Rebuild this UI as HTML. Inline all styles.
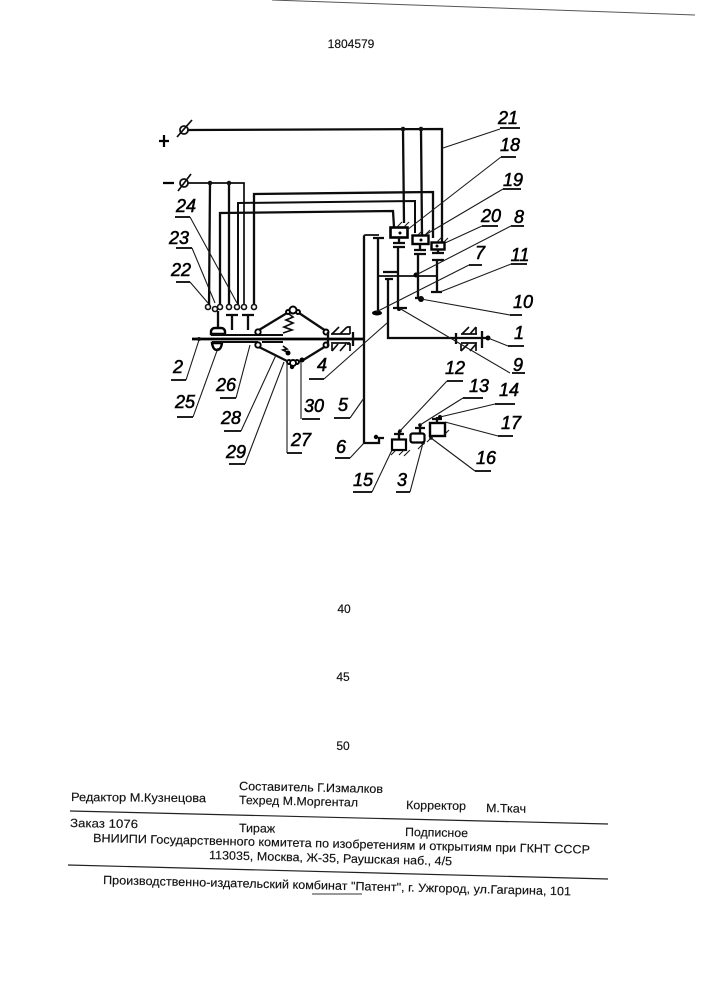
<!DOCTYPE html>
<html><head><meta charset="utf-8"><style>
html,body{margin:0;padding:0;background:#fff}
svg{display:block}
.t{font-family:"Liberation Sans",sans-serif;font-size:12px;fill:#111;stroke:#111;stroke-width:.15}
.l{font-family:"Liberation Sans",sans-serif;font-size:18px;font-style:italic;fill:#000;stroke:#000;stroke-width:.55;text-anchor:middle}
.w{fill:none;stroke:#0c0c0c;stroke-width:2.3}
.w2{fill:none;stroke:#0c0c0c;stroke-width:2}
.n{fill:none;stroke:#1a1a1a;stroke-width:1.1}
.b{fill:none;stroke:#0c0c0c;stroke-width:1.7}
.u{fill:none;stroke:#000;stroke-width:1.8}
</style></head><body>
<svg width="707" height="1000" viewBox="0 0 707 1000" xmlns="http://www.w3.org/2000/svg">
<rect width="707" height="1000" fill="#fff"/>
<path d="M272 0L695 15" stroke="#555" stroke-width="1" fill="none"/>
<text class="t" x="351" y="48" text-anchor="middle">1804579</text>
<text class="t" x="344" y="613" text-anchor="middle">40</text>
<text class="t" x="343" y="681" text-anchor="middle">45</text>
<text class="t" x="343" y="750" text-anchor="middle">50</text>

<!-- power terminals -->
<path d="M159 141H169M164 135V147M163 183H174" fill="none" stroke="#000" stroke-width="2.2"/>
<circle cx="184" cy="130" r="4" fill="none" stroke="#111" stroke-width="1.8"/>
<circle cx="184" cy="183" r="4" fill="none" stroke="#111" stroke-width="1.8"/>
<path class="b" d="M177 137L192 120M178 191L191 174"/>
<path class="w" d="M188 130L442 129V243M403 129L404 223M421 129L422 235"/>
<path class="b" d="M188 183H244V308"/>
<path class="w" d="M210 183L209 308M229 183V308"/>
<circle cx="403" cy="129" r="2.300" fill="#111"/><circle cx="421" cy="129" r="2.300" fill="#111"/>
<circle cx="210" cy="183" r="2.300" fill="#111"/><circle cx="229" cy="183" r="2.300" fill="#111"/>
<path class="w" d="M254 308V194L433 192V238"/>
<path class="w2" d="M238 308V203L415 201V233"/>
<path class="w" d="M220 308V213L393 211L394 227"/>

<!-- contacts -->
<g fill="#fff" stroke="#111" stroke-width="1.600">
<circle cx="208" cy="307" r="2.500"/><circle cx="215" cy="309" r="2.500"/><circle cx="220" cy="307" r="2.500"/><circle cx="229" cy="307" r="2.500"/><circle cx="237" cy="307" r="2.500"/><circle cx="244" cy="307" r="2.500"/><circle cx="254" cy="307" r="2.500"/>
</g>
<path class="w" d="M232 314V330M226 315H238M248 314V330M242 315H254M218 311V329"/>
<path d="M211 334V331Q212 328 215 328H221Q224 328 225 331V334Z" fill="#fff" stroke="#000" stroke-width="2.400"/>
<path d="M212 343Q213 350 217 350Q221 350 222 343Z" fill="#fff" stroke="#000" stroke-width="2.400"/>

<!-- main shaft + sleeves -->
<path d="M192 339H364" stroke="#000" stroke-width="2.800" fill="none"/>
<path class="w2" d="M211 335H258M212 342H258M258 335H283M262 342H283"/>
<circle cx="199" cy="339" r="2" fill="#111"/>

<!-- rhombus -->
<path class="w" d="M259 330L287 313M299 313L326 331M259 347L287 361M300 362L326 346"/>
<path class="b" d="M283 333L292 330L284 327L293 323L286 320L293 317L289 314M283 346L287 349L283 350L289 353"/>
<g fill="#fff" stroke="#000" stroke-width="1.900">
<circle cx="258" cy="332" r="2.700"/><circle cx="258" cy="345" r="2.700"/><circle cx="326" cy="332" r="2.500"/><circle cx="326" cy="345" r="2.500"/>
<circle cx="288" cy="312" r="2"/><circle cx="298" cy="312" r="2"/><circle cx="293" cy="310" r="3.500"/>
<circle cx="289" cy="362" r="2"/><circle cx="297" cy="362" r="2"/><circle cx="293" cy="363" r="3"/>
</g>
<circle cx="288" cy="353" r="2.500" fill="#000"/><circle cx="302" cy="360" r="2.500" fill="#000"/><circle cx="292" cy="367" r="2.200" fill="#000"/>

<!-- bearing left -->
<path class="b" d="M331 334H350M331 343H350M332 334L339 327M340 334L347 327M347 327H350V334M332 351L338 344M340 351L346 344M332 344V351M347 344H350V351"/>
<path class="w" d="M353 332V346M328 332V346"/>

<!-- bearing right + output shaft -->
<path class="w" d="M388 279V338H488"/>
<path class="b" d="M461 334H477M461 343H477M462 334L469 327M470 334L476 327M476 327V334M461 351L468 344M470 351L476 344M461 344V351M476 344V351"/>
<path class="w" d="M456 333V344M482 331V348"/>
<circle cx="488" cy="338" r="2.500" fill="#000"/>

<!-- gears -->
<path class="w" d="M364 236V443H379V438H384"/>
<path d="M364 236Q364 235 366 235H379" class="b"/>
<path class="w" d="M373 238H384M378 239V312"/>
<ellipse cx="377" cy="313" rx="5" ry="2.500" fill="#000"/>
<path class="w" d="M383 272H397M385 279H393"/>
<path class="b" d="M378 276H437"/>
<circle cx="416" cy="275" r="2.500" fill="#000"/>
<path class="w" d="M398 247V307M393 308H407M418 254V298M437 260V292M431 292H442"/>
<circle cx="399" cy="309" r="2" fill="#000"/><circle cx="421" cy="299" r="3" fill="#000"/><path class="w" d="M415 298H423"/>

<!-- relays top -->
<rect x="390.500" y="227.500" width="17" height="10" fill="#fff" stroke="#000" stroke-width="2.600"/>
<rect x="412.500" y="235.500" width="16" height="8.500" fill="#fff" stroke="#000" stroke-width="2.400"/>
<rect x="431.500" y="242.500" width="13" height="7" fill="#fff" stroke="#000" stroke-width="2.400"/>
<circle cx="400" cy="233" r="1.500" fill="#000"/><circle cx="421" cy="240" r="1.500" fill="#000"/><circle cx="437" cy="246" r="1.500" fill="#000"/>
<path class="n" d="M397 227L402 222M404 227L409 222M418 235L423 230M425 235L430 230M437 242L442 237M444 242L448 238"/>
<path class="w" d="M393 243H405M393 247H405M414 250H426M414 254H426M432 253H444M432 260H444M399 237V243M420 244V250M438 249V253"/>

<!-- lower relays -->
<rect x="392" y="439.500" width="14" height="10.500" fill="#fff" stroke="#000" stroke-width="2.200"/>
<rect x="410.500" y="433.500" width="14" height="9" rx="2" fill="#fff" stroke="#000" stroke-width="2.200"/>
<rect x="430" y="423" width="15" height="13" fill="#fff" stroke="#000" stroke-width="2.400"/>
<path class="w" d="M394 434H404M399 431V439M415 428H425M420 425V433M432 419H442M437 417V423"/>
<circle cx="400" cy="431" r="1.800" fill="#000"/><circle cx="420" cy="425" r="1.800" fill="#000"/><circle cx="440" cy="417" r="2" fill="#000"/>
<circle cx="376" cy="437" r="2.200" fill="#000"/><circle cx="423" cy="443" r="1.800" fill="#000"/><circle cx="431" cy="438" r="1.800" fill="#000"/>
<path class="n" d="M391 455L396 450M399 455L404 450M404 456L410 450M418 449L424 443M427 442L433 436M443 436L449 430"/>

<!-- leaders + underlines -->
<path class="n" d="M443 148L500 129M407 230L501 157M425 235L503 189M445 243L482 226M416 275L511 226M376 312L469 265M440 292L511 264M421 299L510 315M488 338L508 346M399 308L510 373M400 431L447 381M420 425L463 398M440 417L495 404M445 422L498 436M431 438L475 471M423 443L410 492M392 450L372 492M350 458L364 443M350 418L364 398M324 379L387 323M301 419V363M287 453V360M245 464L284 362M241 431L276 355M236 398L250 345M193 417L218 348M186 380L199 340M190 282L208 303M192 248L215 303M190 217L237 303"/>
<path class="u" d="M500 128H520M501 157H516M503 189H521M482 226H498M511 226H524M469 265H482M511 264H527M510 315H522M508 346H524M512 373H525M447 381H463M463 398H483M495 404H515M498 436H513M475 471H491M396 492H410M353 492H372M335 458H350M334 418H350M309 379H324M302 419H320M287 453H302M229 464H245M224 431H241M220 398H236M177 417H193M171 380H186M176 282H190M176 248H192M175 217H190"/>

<text class="l" x="508" y="124">21</text>
<text class="l" x="510" y="151">18</text>
<text class="l" x="513" y="186">19</text>
<text class="l" x="491" y="222">20</text>
<text class="l" x="519" y="223">8</text>
<text class="l" x="480" y="259">7</text>
<text class="l" x="520" y="261">11</text>
<text class="l" x="523" y="308">10</text>
<text class="l" x="519" y="339">1</text>
<text class="l" x="518" y="371">9</text>
<text class="l" x="455" y="374">12</text>
<text class="l" x="479" y="392">13</text>
<text class="l" x="509" y="396">14</text>
<text class="l" x="511" y="429">17</text>
<text class="l" x="486" y="464">16</text>
<text class="l" x="402" y="486">3</text>
<text class="l" x="363" y="486">15</text>
<text class="l" x="341" y="453">6</text>
<text class="l" x="343" y="411">5</text>
<text class="l" x="322" y="371">4</text>
<text class="l" x="314" y="412">30</text>
<text class="l" x="301" y="446">27</text>
<text class="l" x="236" y="458">29</text>
<text class="l" x="231" y="424">28</text>
<text class="l" x="226" y="391">26</text>
<text class="l" x="185" y="408">25</text>
<text class="l" x="178" y="373">2</text>
<text class="l" x="181" y="276">22</text>
<text class="l" x="179" y="244">23</text>
<text class="l" x="186" y="212">24</text>

<!-- footer -->
<path d="M70 811L608 824M68 865L608 879" stroke="#222" stroke-width="1.200" fill="none"/>
<path d="M312 894H362" stroke="#333" stroke-width="1" fill="none"/>
<text class="t" transform="translate(71 801) rotate(.5)" textLength="135" lengthAdjust="spacingAndGlyphs">Редактор  М.Кузнецова</text>
<text class="t" transform="translate(239 790) rotate(1.2)" textLength="144" lengthAdjust="spacingAndGlyphs">Составитель  Г.Измалков</text>
<text class="t" transform="translate(239 804) rotate(1.2)" textLength="119" lengthAdjust="spacingAndGlyphs">Техред М.Моргентал</text>
<text class="t" transform="translate(406 809) rotate(1)" textLength="60" lengthAdjust="spacingAndGlyphs">Корректор</text>
<text class="t" transform="translate(486 812) rotate(1)" textLength="40" lengthAdjust="spacingAndGlyphs">М.Ткач</text>
<text class="t" transform="translate(70 827) rotate(1)" textLength="68" lengthAdjust="spacingAndGlyphs">Заказ  1076</text>
<text class="t" transform="translate(239 832) rotate(1)" textLength="36" lengthAdjust="spacingAndGlyphs">Тираж</text>
<text class="t" transform="translate(405 836) rotate(1)" textLength="63" lengthAdjust="spacingAndGlyphs">Подписное</text>
<text class="t" transform="translate(93 842) rotate(1.35)" textLength="497" lengthAdjust="spacingAndGlyphs">ВНИИПИ Государственного комитета по изобретениям и открытиям при ГКНТ СССР</text>
<text class="t" transform="translate(209 859) rotate(1.5)" textLength="243" lengthAdjust="spacingAndGlyphs">113035, Москва, Ж-35, Раушская наб., 4/5</text>
<text class="t" transform="translate(103 884) rotate(1.4)" textLength="468" lengthAdjust="spacingAndGlyphs">Производственно-издательский комбинат "Патент", г. Ужгород, ул.Гагарина, 101</text>
</svg>
</body></html>
